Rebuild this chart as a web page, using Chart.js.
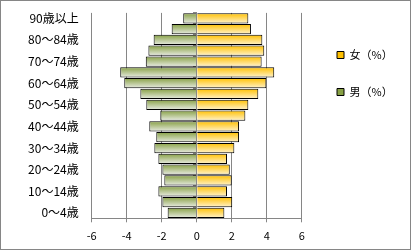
<!DOCTYPE html>
<html>
<head>
<meta charset="utf-8">
<script src="https://cdn.jsdelivr.net/npm/chart.js@4"></script>
<style>
  body { margin: 0; background: #fff; }
  #box { width: 409px; height: 248px; border: 1px solid #868686; }
</style>
</head>
<body>
<div id="box"><canvas id="pyramid" width="409" height="248"></canvas></div>
<script>
const ageGroups = ['0～4歳', '5～9歳', '10～14歳', '15～19歳', '20～24歳', '25～29歳', '30～34歳',
  '35～39歳', '40～44歳', '45～49歳', '50～54歳', '55～59歳', '60～64歳', '65～69歳',
  '70～74歳', '75～79歳', '80～84歳', '85～89歳', '90歳以上'];
const female = [1.58, 2.03, 1.73, 2.00, 1.89, 1.73, 2.15, 2.42, 2.42, 2.78,
  2.95, 3.52, 3.98, 4.43, 3.71, 3.86, 3.75, 3.10, 2.95];
const male = [-1.66, -1.96, -2.19, -1.85, -1.96, -2.19, -2.42, -2.31, -2.71, -2.08,
  -2.88, -3.22, -4.14, -4.37, -2.91, -2.76, -2.46, -1.43, -0.77];
const xTicks = [-6, -4, -2, 0, 2, 4, 6];

const BAR_PCT = 0.95;
const GRID = '#868686';
const LEGEND_W = 108.3;   // space kept on the right for the legend

Chart.defaults.font.family = "'Noto Sans CJK JP', sans-serif";
Chart.defaults.font.size = 11;
Chart.defaults.color = '#000';

// vertical gradient per bar, like the Excel fill
function barFill(top, bottom, flat) {
  return c => {
    if (c.type !== 'data') return flat;
    const y = c.chart.scales.y;
    if (!y) return flat;
    const mid = y.getPixelForValue(c.dataIndex);
    const h = Math.abs(y.getPixelForValue(1) - y.getPixelForValue(0)) * BAR_PCT / 2;
    if (!isFinite(mid) || !isFinite(h) || h === 0) return flat;
    const g = c.chart.ctx.createLinearGradient(0, mid - h, 0, mid + h);
    g.addColorStop(0, top);
    g.addColorStop(1, bottom);
    return g;
  };
}

// fixed legend column on the right, items placed where Excel had them
const legendPlace = {
  id: 'legendPlace',
  beforeLayout(chart) {
    const l = chart.legend;
    if (l && !l._fixedFit) {
      const fit = l.fit;
      l.fit = function () { fit.call(this); this.width = LEGEND_W; };
      l._fixedFit = true;
    }
  },
  afterLayout(chart) {
    const l = chart.legend;
    l.left = 310; l.right = chart.width;
    l.top = 22.5; l.bottom = chart.height;
  }
};

new Chart(document.getElementById('pyramid'), {
  type: 'bar',
  data: {
    labels: ageGroups,
    datasets: [
      {
        label: '女（%）',
        data: female,
        backgroundColor: barFill('#ffc000', '#fff3cf', '#ffd65a'),
        borderColor: '#000',
        borderWidth: 1
      },
      {
        label: '男（%）',
        data: male,
        backgroundColor: barFill('#87a044', '#e9ece4', '#b3c296'),
        borderColor: '#000',
        borderWidth: 1
      }
    ]
  },
  options: {
    indexAxis: 'y',
    responsive: false,
    animation: false,
    barPercentage: BAR_PCT,
    categoryPercentage: 1,
    layout: { padding: { top: 11.9, right: 0, bottom: 0, left: 0 } },
    plugins: {
      legend: {
        position: 'right',
        align: 'start',
        labels: { boxWidth: 7, boxHeight: 7, padding: 26 }
      },
      tooltip: { enabled: false }
    },
    scales: {
      x: {
        stacked: true,
        min: -6,
        max: 6,
        afterBuildTicks: s => { s.ticks = xTicks.map(v => ({ value: v })); },
        afterFit: s => { s.height = 30.7; },
        grid: { color: GRID, tickLength: 4 },
        border: { color: GRID },
        ticks: { padding: 7 }
      },
      y: {
        stacked: true,
        reverse: true,
        afterFit: s => { s.width = 90.7; s.paddingTop = 0; s.paddingBottom = 0; },
        grid: { display: false, drawTicks: false },
        border: { display: false },
        ticks: {
          autoSkip: false,
          padding: 13,
          font: { size: 12 },
          callback: (v, i) => (i % 2 === 0 ? ageGroups[i] : '')
        }
      },
      y2: {
        type: 'category',
        position: { x: 0 },
        reverse: true,
        z: 1,
        grid: { drawOnChartArea: false, tickLength: 3, color: GRID },
        border: { color: GRID },
        ticks: { display: false }
      }
    }
  },
  plugins: [legendPlace]
});
</script>
</body>
</html>
